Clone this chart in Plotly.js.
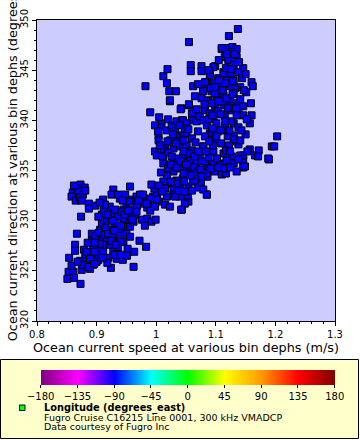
<!DOCTYPE html>
<html>
<head>
<meta charset="utf-8">
<script src="https://cdn.plot.ly/plotly-3.0.1.min.js"></script>
<style>
  html, body { margin: 0; padding: 0; background: #fff; }
  #chart { width: 360px; height: 440px; }
</style>
</head>
<body>
<div id="chart"></div>
<script>
// [speed (m/s), direction (degrees_true)]
var lowerBand = [
  [0.873,333.6],[0.880,333.3],[0.866,333.2],[0.860,332.8],[0.869,332.9],[0.877,332.6],
  [0.858,332.4],[0.865,332.0],[0.872,332.3],[0.881,333.0],[0.862,333.5],[0.875,332.0],
  [0.854,326.3],[0.853,324.9],[0.851,324.2],[0.861,324.9],[0.873,323.7],[0.864,327.6],
  [0.864,327.0],[0.867,328.7],[0.874,330.4],[0.887,331.7],[0.887,331.2],[0.879,327.1],
  [0.881,326.5],[0.892,328.7],[0.892,328.0],[0.894,327.1],[0.900,327.2],[0.892,326.4],
  [0.883,325.9],[0.872,326.0],[0.881,325.6],[0.894,325.6],[0.903,326.1],[0.903,326.6],
  [0.911,326.9],[0.924,325.3],[0.909,328.2],[0.906,329.1],[0.909,329.7],[0.909,330.6],
  [0.898,331.5],[0.911,332.1],[0.922,331.4],[0.928,330.7],[0.917,330.1],[0.922,329.1],
  [0.928,328.4],[0.917,328.1],[0.922,327.6],[0.911,327.6],[0.928,326.9],[0.920,326.3],
  [0.934,326.2],[0.936,326.7],[0.944,326.1],[0.936,327.4],[0.945,327.9],[0.950,328.7],
  [0.939,328.7],[0.936,329.2],[0.948,329.4],[0.956,329.4],[0.962,329.9],[0.953,330.1],
  [0.945,330.2],[0.936,330.4],[0.931,331.1],[0.945,331.1],[0.956,330.7],[0.964,330.6],
  [0.950,331.7],[0.939,332.2],[0.959,332.1],[0.967,332.4],[0.956,333.4],[0.928,333.1],
  [0.925,332.6],[0.936,332.6],[0.948,332.6],[0.978,332.4],[0.987,332.1],[0.973,331.7],
  [0.964,331.1],[0.976,330.1],[0.985,330.2],[0.992,329.9],[0.999,330.1],[0.981,329.5],
  [0.956,328.4],[0.972,328.0],[0.983,327.4],[0.963,326.9],[0.962,325.4],[0.875,325.1],
  [0.889,325.2],[0.995,332.4],[1.001,332.7],[0.997,333.2],[0.992,333.6],[0.973,332.6],
  [0.858,325.5],[0.885,327.8],[0.898,328.5],[0.905,327.7],[0.915,329.3],[0.930,329.8],
  [0.940,327.9],[0.952,327.2],[0.918,325.8],[0.900,325.9],[0.887,326.8],[0.926,330.0],
  [0.942,330.9],[0.955,331.9],[0.968,331.5],[0.985,331.3],[0.990,331.0],[1.005,331.9],
  [0.912,331.0],[0.903,330.4],
  [0.883,326.9],[0.889,326.2],[0.896,326.9],[0.897,327.8],[0.904,328.8],[0.913,328.6],
  [0.919,328.7],[0.925,328.0],[0.932,327.6],[0.929,329.0],[0.941,329.5],[0.947,330.6],
  [0.953,331.0],[0.960,330.1],[0.967,330.9],[0.970,332.0],[0.944,332.0],[0.918,330.6],
  [0.914,331.6],[0.905,331.8],[0.877,325.6],[0.868,325.9],[0.862,324.3],[0.886,325.4],
  [0.896,325.7],[0.910,326.3],[0.930,326.6],[0.940,326.6],[0.951,326.5]
];

var middleBand = [
  [0.990,340.8],[1.042,341.2],[1.055,341.5],[1.023,341.9],[1.009,339.7],[1.004,338.5],
  [1.004,338.0],[0.998,336.9],[1.012,336.5],[1.018,339.0],[1.026,339.5],[1.034,339.9],
  [1.043,340.0],[1.060,340.0],[1.032,338.9],[1.043,338.5],[1.051,338.7],[1.060,338.2],
  [1.023,338.0],[1.015,337.5],[1.029,337.2],[1.040,337.4],[1.051,337.5],[1.060,337.0],
  [1.012,335.7],[1.029,335.9],[1.037,336.2],[1.045,336.4],[1.057,336.0],[1.068,335.9],
  [1.073,336.5],[1.079,337.4],[1.020,335.2],[1.029,334.9],[1.040,335.2],[1.051,335.0],
  [1.062,334.9],[1.076,334.4],[1.085,334.4],[1.045,334.2],[1.034,334.0],[1.023,333.7],
  [1.012,333.9],[1.004,333.5],[1.015,333.2],[1.029,333.1],[1.040,333.5],[1.054,333.4],
  [1.062,333.9],[1.071,333.4],[1.085,332.6],[1.051,332.6],[1.040,332.4],[1.029,332.6],
  [1.018,332.4],[1.001,332.1],[0.990,332.2],[0.978,332.6],[0.984,331.7],[0.998,331.4],
  [1.015,331.6],[1.023,331.4],[1.043,331.1],[1.054,331.9],[1.012,337.0],[1.006,337.5],
  [1.060,340.7],[1.006,339.3],[0.982,343.4],[1.012,344.4],[1.019,345.1],[1.018,343.7],
  [1.022,342.9],[1.033,342.9],[1.023,342.0],[1.041,341.1],[1.055,341.6],[1.062,343.4],
  [1.058,345.5],[1.058,344.9],[1.055,347.8],[1.001,336.5],[1.011,336.4],[1.048,331.7],
  [1.042,331.1],[1.053,332.5],[1.071,333.3],[1.075,333.8],[1.065,334.0],[1.086,334.4],
  [1.087,335.4],[1.076,335.9],[1.057,335.4],[1.046,334.7],[1.034,333.7],[1.032,332.4],
  [1.065,342.4],[1.045,340.0],[1.068,339.9],[1.051,339.7],[1.073,340.4],[1.020,336.8],
  [1.035,338.3],[1.048,339.2],[1.026,336.4],[1.038,337.9],[1.055,336.7],[1.066,337.8],
  [1.070,338.9],[1.064,335.3],[1.018,334.5],[1.008,334.8],[1.047,333.9],
  [1.020,340.1],[1.028,338.6],[1.039,339.5],[1.046,338.0],[1.054,339.1],[1.019,337.9],
  [1.033,337.7],[1.046,336.9],[1.024,335.6],[1.034,335.3],[1.042,335.9],[1.050,335.6],
  [1.059,334.5],[1.069,334.8],[1.038,333.0],[1.048,332.9],[1.060,333.0],[1.025,333.9],
  [1.010,332.9],[1.064,336.4],[1.074,335.1],[1.079,333.1],[1.005,340.3],[0.998,339.5],
  [1.003,338.9]
];

var upperCluster = [
  [1.137,349.1],[1.122,348.4],[1.110,347.1],[1.120,347.2],[1.128,347.3],[1.135,347.1],
  [1.127,346.8],[1.135,346.3],[1.115,346.3],[1.121,346.0],[1.132,345.8],[1.130,345.5],
  [1.146,345.2],[1.137,344.8],[1.124,344.7],[1.113,344.8],[1.099,345.4],[1.090,344.8],
  [1.076,345.4],[1.076,344.9],[1.104,344.2],[1.118,344.0],[1.130,344.0],[1.144,344.2],
  [1.160,343.8],[1.162,343.4],[1.141,343.3],[1.132,343.2],[1.121,343.4],[1.107,343.4],
  [1.096,343.7],[1.085,343.8],[1.079,343.0],[1.093,342.9],[1.151,342.8],[1.130,342.7],
  [1.113,342.5],[1.101,342.4],[1.087,342.0],[1.076,342.2],[1.124,342.0],[1.135,341.7],
  [1.159,341.7],[1.146,341.4],[1.113,341.5],[1.099,341.4],[1.082,341.0],[1.090,340.7],
  [1.104,340.9],[1.124,341.0],[1.138,340.8],[1.146,340.5],[1.160,340.5],[1.135,340.5],
  [1.115,340.4],[1.096,340.2],[1.079,340.0],[1.085,339.5],[1.101,339.7],[1.115,339.4],
  [1.130,339.7],[1.157,339.7],[1.138,339.3],[1.121,338.9],[1.104,338.9],[1.090,338.7],
  [1.082,338.4],[1.097,338.1],[1.130,338.5],[1.120,338.4],[1.079,337.4],[1.096,336.9],
  [1.113,336.7],[1.127,336.4],[1.141,336.5],[1.146,336.0],[1.157,337.1],[1.166,336.5],
  [1.172,337.0],[1.189,336.1],[1.194,337.4],[1.198,337.4],[1.203,338.4],[1.110,335.7],
  [1.130,335.7],[1.096,335.7],[1.082,335.9],[1.085,334.7],[1.110,334.6],[1.117,334.7],
  [1.076,334.4],[1.146,335.3],[1.085,332.6],[1.130,337.9],[1.110,347.2],[1.090,344.5],
  [1.113,344.7],[1.096,345.3],[1.085,341.9],[1.079,342.9],[1.082,343.8],[1.107,335.6],
  [1.149,335.4],[1.127,335.7],[1.146,336.5],[1.171,336.4],[1.188,336.2],[1.105,346.0],
  [1.092,343.2],[1.108,339.0],[1.122,337.5],[1.138,337.6],[1.150,338.6],[1.143,339.0],
  [1.095,337.5],[1.088,336.3],[1.102,336.2],[1.118,336.0],[1.125,339.9],[1.110,341.9],
  [1.128,343.9],[1.117,345.2],[1.150,344.6],[1.153,336.9],[1.135,334.9],[1.098,334.9],
  [1.071,336.9],[1.068,341.1],[1.070,343.6],
  [1.105,344.0],[1.112,343.0],[1.118,342.2],[1.126,341.4],[1.108,340.6],[1.116,339.9],
  [1.123,339.0],[1.131,338.1],[1.109,337.7],[1.117,337.0],[1.124,336.9],[1.098,342.7],
  [1.104,341.9],[1.093,341.7],[1.088,340.1],[1.094,339.2],[1.101,338.4],[1.089,337.9],
  [1.083,336.9],[1.091,335.2],[1.104,335.3],[1.115,335.2],[1.124,335.3],[1.138,336.1],
  [1.141,338.0],[1.134,341.2],[1.141,342.1],[1.126,345.1],[1.118,346.6],[1.131,346.6],
  [1.139,345.8],[1.116,343.7],[1.099,343.3],[1.088,345.0],[1.081,341.6],[1.094,340.5],
  [1.152,340.1],[1.147,343.0],[1.128,342.6],[1.120,341.2]
];

var lonTicks = [-180, -135, -90, -45, 0, 45, 90, 135, 180];
var lonColors = ['#800080', '#ff00ff', '#0000ff', '#00ffff', '#00ff00',
                 '#ffff00', '#ff9900', '#ff0000', '#800000'];

var points = lowerBand.concat(middleBand, upperCluster);
var speed = points.map(function (p) { return p[0]; });
var direction = points.map(function (p) { return p[1]; });

var colorscale = lonColors.map(function (c, i) { return [i / (lonColors.length - 1), c]; });

var font = 'DejaVu Sans, Verdana, sans-serif';

// plot area in pixels: x 37..335, y 20..321
function px(x) { return (x - 37) / 298; }
function py(y) { return (321 - y) / 301; }

var scatter = {
  x: speed,
  y: direction,
  type: 'scatter',
  mode: 'markers',
  marker: {symbol: 'square', size: 7, color: '#0000ff', line: {color: '#000', width: 1}},
  hoverinfo: 'x+y',
  showlegend: false
};

var scale = {
  x: [null],
  y: [null],
  type: 'scatter',
  mode: 'markers',
  showlegend: false,
  hoverinfo: 'skip',
  marker: {
    color: [0], cmin: -180, cmax: 180, colorscale: colorscale, showscale: true,
    colorbar: {
      orientation: 'h', x: px(187.7), xanchor: 'center', y: py(370), yanchor: 'top',
      lenmode: 'pixels', len: 294, thickness: 15, xpad: 0, ypad: 0,
      outlinewidth: 0, tickmode: 'array', tickvals: lonTicks,
      ticks: 'outside', ticklen: 3, tickcolor: '#000',
      tickfont: {family: font, size: 10, color: '#000'}
    }
  }
};

var layout = {
  width: 360,
  height: 440,
  margin: {l: 37, r: 25, t: 20, b: 119, pad: 0},
  paper_bgcolor: '#fff',
  plot_bgcolor: '#ccccff',
  showlegend: false,
  font: {family: font, color: '#000'},
  xaxis: {
    range: [0.8, 1.3], dtick: 0.1, tick0: 0.8, showgrid: false, zeroline: false,
    showline: true, mirror: true, linecolor: '#000', linewidth: 1,
    ticks: 'outside', ticklen: 4, tickcolor: '#000',
    minor: {dtick: 0.02, ticks: 'outside', ticklen: 2, tickcolor: '#000'},
    tickfont: {size: 10},
    title: {text: 'Ocean current speed at various bin dephs (m/s)', font: {size: 12.8}, standoff: 3},
    automargin: false
  },
  yaxis: {
    range: [320, 350], dtick: 5, tick0: 320, showgrid: false, zeroline: false,
    showline: true, mirror: true, linecolor: '#000', linewidth: 1,
    ticks: 'outside', ticklen: 4, tickcolor: '#000', tickangle: -90,
    minor: {dtick: 1, ticks: 'outside', ticklen: 2, tickcolor: '#000'},
    tickfont: {size: 10},
    automargin: false
  },
  shapes: [
    {type: 'rect', xref: 'paper', yref: 'paper', layer: 'below',
     x0: px(0.5), x1: px(358.5), y0: py(359.5), y1: py(438.5),
     fillcolor: '#ffffcc', line: {color: '#000', width: 1}},
    {type: 'rect', xref: 'paper', yref: 'paper',
     x0: px(19.5), x1: px(25), y0: py(405), y1: py(410.5),
     fillcolor: '#00ff00', line: {color: '#000', width: 1}}
  ],
  annotations: [
    {text: 'Ocean current direction at various bin dephs (degrees_true)',
     xref: 'paper', yref: 'paper', x: px(12.5), y: py(149.7), textangle: -90,
     xanchor: 'center', yanchor: 'middle', showarrow: false, font: {size: 12.8}},
    {text: '<b>Longitude (degrees_east)</b>', xref: 'paper', yref: 'paper',
     x: px(42), y: py(408), xanchor: 'left', yanchor: 'middle', showarrow: false,
     font: {size: 9.8}},
    {text: 'Fugro Cruise C16215 Line 0001, 300 kHz VMADCP', xref: 'paper', yref: 'paper',
     x: px(42), y: py(417.5), xanchor: 'left', yanchor: 'middle', showarrow: false,
     font: {size: 9.5}},
    {text: 'Data courtesy of Fugro Inc', xref: 'paper', yref: 'paper',
     x: px(42), y: py(427), xanchor: 'left', yanchor: 'middle', showarrow: false,
     font: {size: 9.5}}
  ]
};

Plotly.newPlot('chart', [scatter, scale], layout, {displayModeBar: false, staticPlot: true});
</script>
</body>
</html>
